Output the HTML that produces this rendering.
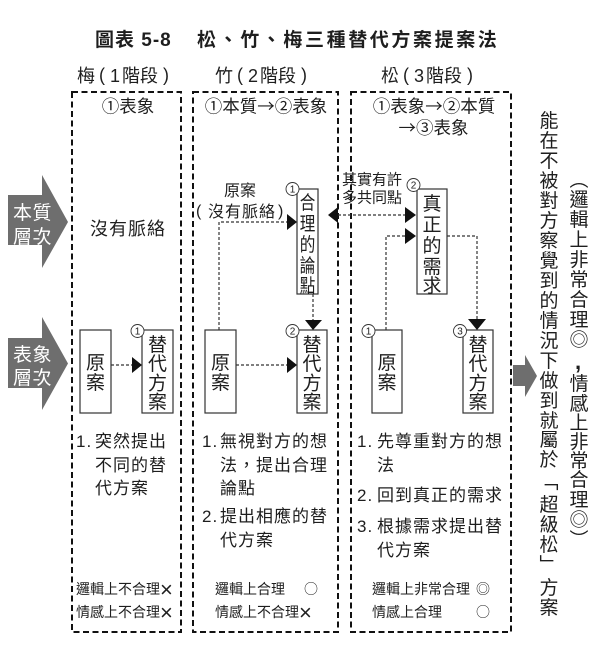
<!DOCTYPE html>
<html><head><meta charset="utf-8">
<style>
html,body{margin:0;padding:0;background:#fff;}
svg{display:block}
text{font-family:"Liberation Sans","Noto Sans CJK TC",sans-serif;fill:#1e1e1e;}
.cjk{font-family:"Noto Sans CJK TC","Liberation Sans",sans-serif;}
.w{fill:#fff;}
</style></head><body>
<svg width="600" height="664" viewBox="0 0 600 664" xmlns="http://www.w3.org/2000/svg">
<!-- Title -->
<text x="95" y="46" font-size="19" font-weight="bold" letter-spacing="1">圖表 5-8</text>
<text x="197" y="46" font-size="19" font-weight="bold" letter-spacing="2.6">松、竹、梅三種替代方案提案法</text>

<!-- Column headers -->
<g font-size="18">
<text x="77" y="82">梅</text><text x="99" y="81">(</text><text x="110" y="82">1</text><text x="122" y="82">階段</text><text x="163" y="81">)</text>
<text x="215" y="82">竹</text><text x="237" y="81">(</text><text x="248" y="82">2</text><text x="260" y="82">階段</text><text x="301" y="81">)</text>
<text x="381" y="82">松</text><text x="403" y="81">(</text><text x="414" y="82">3</text><text x="426" y="82">階段</text><text x="467" y="81">)</text>
</g>

<!-- Dashed column boxes -->
<g fill="none" stroke="#111" stroke-width="2" stroke-dasharray="6 3.5">
<rect x="72" y="92" width="109" height="540"/>
<rect x="193" y="92" width="145" height="540"/>
<rect x="351" y="92" width="160" height="540"/>
</g>

<!-- Sub headers -->
<text class="cjk" x="128" y="112.5" font-size="17.5" text-anchor="middle">①表象</text>
<text class="cjk" x="266" y="112.5" font-size="17.5" text-anchor="middle">①本質→②表象</text>
<text class="cjk" x="434" y="112.5" font-size="17.5" text-anchor="middle">①表象→②本質</text>
<text class="cjk" x="433.5" y="134" font-size="17.5" text-anchor="middle">→③表象</text>

<!-- Left gray arrows -->
<polygon points="8,195 42,195 42,175 68,222 42,268 42,245 8,245" fill="#6e6e6e"/>
<polygon points="8,338 42,338 42,317 68,363.5 42,410 42,388 8,388" fill="#6e6e6e"/>
<text class="w" x="13" y="219" font-size="19" letter-spacing="0.5">本質</text>
<text class="w" x="13" y="243" font-size="19" letter-spacing="0.5">層次</text>
<text class="w" x="13" y="361" font-size="19" letter-spacing="0.5">表象</text>
<text class="w" x="13" y="384" font-size="19" letter-spacing="0.5">層次</text>

<!-- Column 1 -->
<text x="90" y="235" font-size="18" letter-spacing="1">沒有脈絡</text>

<!-- Node boxes -->
<g fill="#fff" stroke="#333" stroke-width="1.2">
<rect x="80" y="330" width="31" height="83"/>
<rect x="142" y="330" width="31" height="83"/>
<rect x="205" y="330" width="31" height="83"/>
<rect x="297" y="189" width="21" height="105"/>
<rect x="297" y="330" width="30" height="83"/>
<rect x="372" y="330" width="30" height="83"/>
<rect x="417" y="189" width="30" height="105"/>
<rect x="463" y="330" width="30" height="83"/>
</g>

<!-- Connectors -->
<g fill="none" stroke="#333" stroke-width="1.2" stroke-dasharray="3 2">
<line x1="111" y1="365" x2="132" y2="365"/>
<polyline points="219,330 219,222 287,222"/>
<line x1="236" y1="365" x2="287" y2="365"/>
<line x1="313" y1="294" x2="313" y2="320"/>
<line x1="338" y1="215" x2="405" y2="215"/>
<polyline points="386,330 386,236 405,236"/>
<polyline points="447,236 477,236 477,319"/>
</g>
<g fill="#111">
<polygon points="132,357 142,365 132,373"/>
<polygon points="287,214 297,222 287,230"/>
<polygon points="287,357 297,365 287,373"/>
<polygon points="305,320 313,330 322,320"/>
<polygon points="338,207 328,215 338,223"/>
<polygon points="405,207 416,215 405,223"/>
<polygon points="405,228 416,236 405,244"/>
<polygon points="468,319 477,330 486,319"/>
</g>

<!-- Vertical text in nodes -->
<g font-size="19" text-anchor="middle">
<text x="95.5" y="369">原</text><text x="95.5" y="389">案</text>
<text x="157.5" y="350.8">替</text><text x="157.5" y="370.1">代</text><text x="157.5" y="389.4">方</text><text x="157.5" y="408.7">案</text>
<text x="220.5" y="369">原</text><text x="220.5" y="389">案</text>
<text x="312" y="350.8">替</text><text x="312" y="370.1">代</text><text x="312" y="389.4">方</text><text x="312" y="408.7">案</text>
<text x="387" y="369">原</text><text x="387" y="389">案</text>
<text x="478" y="350.8">替</text><text x="478" y="370.1">代</text><text x="478" y="389.4">方</text><text x="478" y="408.7">案</text>
<text x="432" y="210">真</text><text x="432" y="231">正</text><text x="432" y="252">的</text><text x="432" y="273">需</text><text x="432" y="292">求</text>
</g>
<g transform="translate(307.5 0) scale(0.82 1)" font-size="19" text-anchor="middle">
<text x="0" y="209">合</text><text x="0" y="230">理</text><text x="0" y="251">的</text><text x="0" y="272">論</text><text x="0" y="292">點</text>
</g>

<!-- Number circles -->
<g fill="#fff" stroke="#333" stroke-width="0.9">
<circle cx="137.5" cy="331" r="6.5"/>
<circle cx="292.5" cy="189" r="6.5"/>
<circle cx="292.5" cy="331" r="6.5"/>
<circle cx="413.5" cy="185" r="6.5"/>
<circle cx="368.5" cy="331" r="6.5"/>
<circle cx="460" cy="331" r="6.5"/>
</g>
<g font-size="10" text-anchor="middle">
<text x="137.5" y="334.6">1</text>
<text x="292.5" y="192.6">1</text>
<text x="292.5" y="334.6">2</text>
<text x="413.5" y="188.6">2</text>
<text x="368.5" y="334.6">1</text>
<text x="460" y="334.6">3</text>
</g>

<!-- Column 2 labels -->
<text x="240" y="196" font-size="16" text-anchor="middle">原案</text>
<g font-size="16">
<text x="196" y="216">(</text><text x="208" y="217" letter-spacing="1">沒有脈絡</text><text x="278" y="216">)</text>
</g>
<!-- Column 3 labels -->
<text x="342" y="184.5" font-size="15">其實有許</text>
<text x="342" y="202.5" font-size="15">多共同點</text>

<!-- Right gray arrow -->
<polygon points="513,365 525,365 525,355 537,376 525,397 525,386 513,386" fill="#6e6e6e"/>

<!-- Right vertical text col A -->
<g class="cjk" font-size="19" text-anchor="middle">
<text x="549" y="127">能</text><text x="549" y="147">在</text><text x="549" y="167">不</text><text x="549" y="187">被</text>
<text x="549" y="207">對</text><text x="549" y="227">方</text><text x="549" y="247">察</text><text x="549" y="267">覺</text>
<text x="549" y="287">到</text><text x="549" y="307">的</text><text x="549" y="327">情</text><text x="549" y="347">況</text>
<text x="549" y="367">下</text><text x="549" y="387">做</text><text x="549" y="407">到</text><text x="549" y="427">就</text>
<text x="549" y="446">屬</text><text x="549" y="466">於</text><text x="549" y="488">﹁</text><text x="549" y="511">超</text>
<text x="549" y="531">級</text><text x="549" y="551">松</text><text x="549" y="571">﹂</text><text x="549" y="594">方</text>
<text x="549" y="614">案</text>
</g>
<!-- Right vertical text col B -->
<g class="cjk" font-size="19" text-anchor="middle">
<text x="579" y="186">︵</text><text x="579" y="206">邏</text><text x="579" y="226">輯</text><text x="579" y="246">上</text>
<text x="579" y="266">非</text><text x="579" y="286">常</text><text x="579" y="306">合</text><text x="579" y="326">理</text>
<text x="579" y="346">◎</text><text x="579" y="390">情</text><text x="579" y="410">感</text>
<text x="579" y="429">上</text><text x="579" y="448">非</text><text x="579" y="467">常</text><text x="579" y="486">合</text>
<text x="579" y="506">理</text><text x="579" y="526">◎</text><text x="579" y="546">︶</text>
</g>
<text x="575" y="369" font-size="22" font-weight="bold">,</text>

<!-- Bottom descriptions -->
<g font-size="17" letter-spacing="1">
<text x="76" y="447">1.</text><text x="95" y="447">突然提出</text>
<text x="95" y="471">不同的替</text>
<text x="95" y="494">代方案</text>

<text x="202" y="447">1.</text><text x="220" y="447">無視對方的想</text>
<text x="220" y="471">法，提出合理</text>
<text x="220" y="494">論點</text>
<text x="202" y="522">2.</text><text x="220" y="522">提出相應的替</text>
<text x="220" y="546">代方案</text>

<text x="357" y="447">1.</text><text x="377" y="447">先尊重對方的想</text>
<text x="377" y="471">法</text>
<text x="357" y="501">2.</text><text x="377" y="501">回到真正的需求</text>
<text x="357" y="532">3.</text><text x="377" y="532">根據需求提出替</text>
<text x="377" y="556">代方案</text>
</g>

<!-- Evaluations -->
<g font-size="14">
<text x="76" y="594">邏輯上不合理</text>
<text x="76" y="617">情感上不合理</text>
<text x="215" y="594">邏輯上合理</text>
<text class="cjk" x="304" y="594">○</text>
<text x="215" y="617">情感上不合理</text>
<text x="372" y="594">邏輯上非常合理</text>
<text class="cjk" x="476" y="594">◎</text>
<text x="372" y="617">情感上合理</text>
<text class="cjk" x="476" y="617">○</text>
</g>
<g font-size="22">
<text x="160" y="597">×</text>
<text x="160" y="620">×</text>
<text x="299" y="620">×</text>
</g>
</svg>
</body></html>
